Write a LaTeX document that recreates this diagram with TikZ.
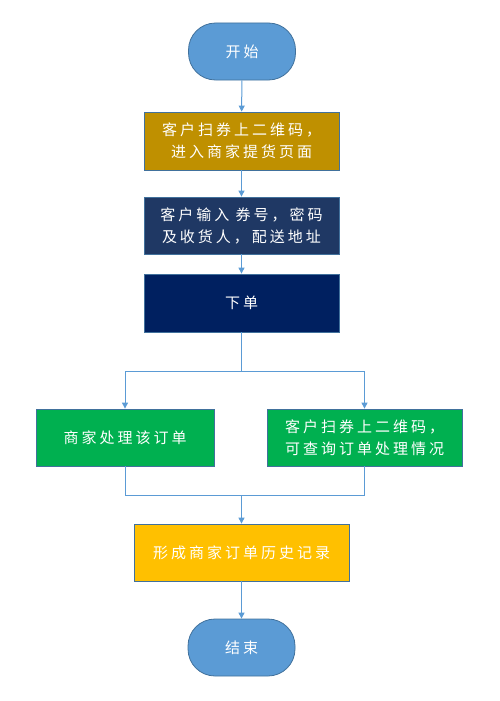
\documentclass[tikz,border=0pt]{standalone}
\usepackage{fontspec}
\newfontfamily\cjk[LetterSpace=20]{Noto Sans CJK SC}
\usetikzlibrary{arrows.meta}
\definecolor{lineblue}{HTML}{5B9BD5}
\definecolor{edgeblue}{HTML}{41719C}
\definecolor{termfill}{HTML}{5B9BD5}
\definecolor{goldfill}{HTML}{BF9000}
\definecolor{darkbluefill}{HTML}{1F3864}
\definecolor{navyfill}{HTML}{002060}
\definecolor{greenfill}{HTML}{00B050}
\definecolor{yellowfill}{HTML}{FFC000}
\tikzset{
  base/.style={draw=edgeblue, line width=0.8pt, inner sep=0pt, text=white, align=center,
    font=\cjk\fontsize{15}{22}\selectfont},
  term/.style={base, fill=termfill, minimum width=107pt, minimum height=57pt, rounded corners=27pt},
  proc/.style={base, minimum height=57pt},
  conn/.style={draw=lineblue, line width=1pt, -{Triangle[width=6pt,length=6pt]}},
  link/.style={draw=lineblue, line width=1pt}
}
\begin{document}
\begin{tikzpicture}[x=1pt,y=1pt]
\useasboundingbox (0,0) rectangle (499,-701);
\node[term] (start) at (242,-51.5) {开始};
\node[proc, fill=goldfill, minimum width=195pt, minimum height=58pt] (b1) at (241.5,-141) {客户扫券上二维码，\\进入商家提货页面};
\node[proc, fill=darkbluefill, minimum width=195pt] (b2) at (241.5,-225.5) {客户输入 券号，密码\\及收货人，配送地址};
\node[proc, fill=navyfill, minimum width=195pt, minimum height=58pt] (b3) at (241.5,-303) {下单};
\node[proc, fill=greenfill, minimum width=178pt] (L) at (125,-437.5) {商家处理该订单};
\node[proc, fill=greenfill, minimum width=195pt] (R) at (364.5,-437.5) {客户扫券上二维码，\\可查询订单处理情况};
\node[proc, fill=yellowfill, minimum width=215pt] (Y) at (241.5,-552.5) {形成商家订单历史记录};
\node[term] (end) at (241.5,-647.5) {结束};
\coordinate (sp) at (241.5,-371);
\coordinate (mg) at (241.5,-495);
\draw[conn] (start) -- (b1);
\draw[conn] (b1) -- (b2);
\draw[conn] (b2) -- (b3);
\draw[link] (b3.south) -- (sp);
\draw[conn] (sp) -| (L.north);
\draw[conn] (sp) -| (R.north);
\draw[link] (L.south) |- (mg);
\draw[link] (R.south) |- (mg);
\draw[conn] (mg) -- (Y.north);
\draw[conn] (Y) -- (end);
\end{tikzpicture}
\end{document}
